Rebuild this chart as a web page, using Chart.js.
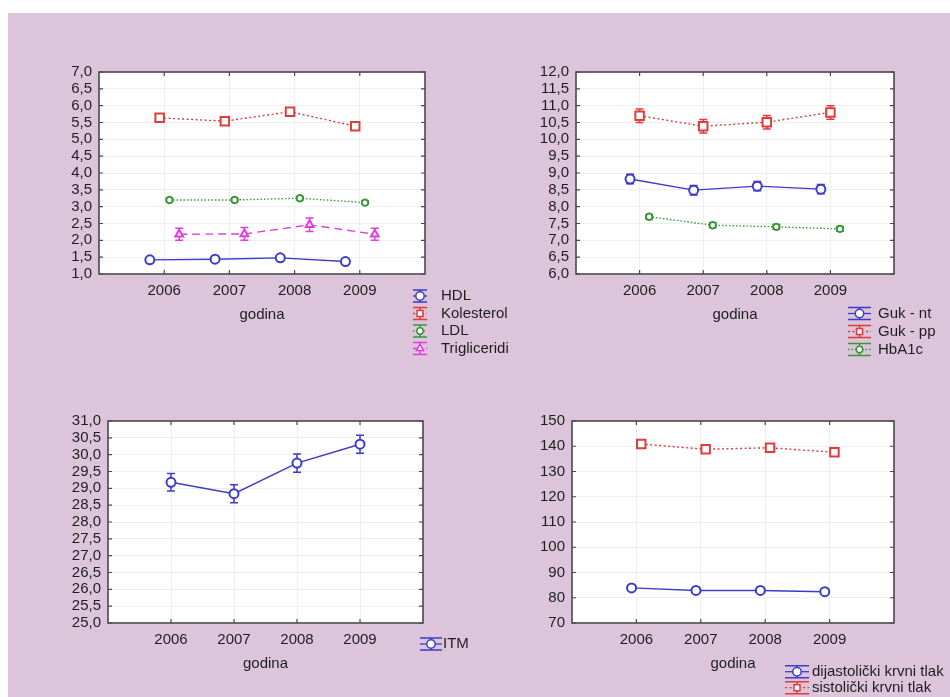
<!DOCTYPE html>
<html>
<head>
<meta charset="utf-8">
<script src="https://cdn.jsdelivr.net/npm/chart.js@4.4.0/dist/chart.umd.min.js"></script>
<style>
  body { margin: 0; background: #fff; }
  #page { position: absolute; left: 8px; top: 13px; width: 942px; height: 684px; background: #dcc4da; }
  canvas { position: absolute; }
</style>
</head>
<body>
<div id="page"></div>
<canvas id="c1" width="520" height="370" style="left:0px;top:0px"></canvas>
<canvas id="c2" width="470" height="370" style="left:480px;top:0px"></canvas>
<canvas id="c3" width="480" height="322" style="left:0px;top:375px"></canvas>
<canvas id="c4" width="470" height="322" style="left:480px;top:375px"></canvas>
<script>
// godine (x os)
const years = [2006, 2007, 2008, 2009];

// lipidi
const hdl = [1.42, 1.44, 1.48, 1.37];
const hdlErr = [0.03, 0.03, 0.03, 0.03];
const kolesterol = [5.64, 5.54, 5.82, 5.39];
const kolesterolErr = [0.08, 0.08, 0.08, 0.08];
const ldl = [3.20, 3.20, 3.25, 3.12];
const ldlErr = [0.05, 0.05, 0.05, 0.05];
const trigliceridi = [2.18, 2.19, 2.46, 2.18];
const trigliceridiErr = [0.18, 0.19, 0.2, 0.18];

// guk
const gukNt = [8.82, 8.49, 8.61, 8.52];
const gukNtErr = [0.14, 0.14, 0.14, 0.14];
const gukPp = [10.70, 10.39, 10.51, 10.80];
const gukPpErr = [0.2, 0.2, 0.2, 0.2];
const hba1c = [7.70, 7.45, 7.40, 7.34];
const hba1cErr = [0.07, 0.07, 0.07, 0.07];

// ITM
const itm = [29.18, 28.84, 29.75, 30.31];
const itmErr = [0.26, 0.27, 0.27, 0.27];

// krvni tlak
const dijastolicki = [83.9, 82.9, 82.9, 82.4];
const dijastolickiErr = [0.6, 0.6, 0.6, 0.6];
const sistolicki = [140.9, 138.8, 139.4, 137.6];
const sistolickiErr = [1.0, 1.0, 1.0, 1.0];

const FONT = 'Liberation Sans, Arial, sans-serif';
const BLUE = '#3c3cc8';
const RED = '#e03c3c';
const GREEN = '#3a963a';
const MAGENTA = '#dd3fdd';
const TXT = '#1e1e1e';

// zarez umjesto tocke
function fmt(dec) {
  return function(v) { return dec ? v.toFixed(dec).replace('.', ',') : String(v); };
}

function series(label, vals, err, off, color, style, radius, dash) {
  return {
    label: label,
    data: years.map(function(y, i) { return { x: y + off, y: vals[i] }; }),
    err: err,
    borderColor: color,
    backgroundColor: color,
    borderWidth: 1.4,
    borderDash: dash,
    pointStyle: style,
    pointRadius: radius,
    pointBorderWidth: 2,
    pointBackgroundColor: '#fff',
    pointBorderColor: color,
    tension: 0
  };
}

const plotPlugin = {
  id: 'plotPlugin',
  beforeDraw(chart) {
    const a = chart.chartArea, ctx = chart.ctx;
    ctx.save();
    ctx.fillStyle = '#fff';
    ctx.fillRect(a.left, a.top, a.right - a.left, a.bottom - a.top);
    ctx.restore();
  },
  beforeDatasetsDraw(chart) {
    const ctx = chart.ctx, xs = chart.scales.x, ys = chart.scales.y;
    ctx.save();
    chart.data.datasets.forEach(function(ds) {
      ctx.strokeStyle = ds.borderColor;
      ctx.lineWidth = 1.5;
      ctx.setLineDash([]);
      ds.data.forEach(function(p, i) {
        const x = xs.getPixelForValue(p.x);
        const y1 = ys.getPixelForValue(p.y - ds.err[i]);
        const y2 = ys.getPixelForValue(p.y + ds.err[i]);
        ctx.beginPath();
        ctx.moveTo(x, y1); ctx.lineTo(x, y2);
        ctx.moveTo(x - 4, y1); ctx.lineTo(x + 4, y1);
        ctx.moveTo(x - 4, y2); ctx.lineTo(x + 4, y2);
        ctx.stroke();
      });
    });
    ctx.restore();
  },
  afterDraw(chart) {
    const a = chart.chartArea, ctx = chart.ctx;
    const xs = chart.scales.x, ys = chart.scales.y;
    ctx.save();
    ctx.strokeStyle = '#4d4650';
    ctx.lineWidth = 1.6;
    ctx.strokeRect(a.left, a.top, a.right - a.left, a.bottom - a.top);
    ctx.lineWidth = 1.2;
    ctx.beginPath();
    ys.ticks.forEach(function(t) {
      const y = ys.getPixelForValue(t.value);
      ctx.moveTo(a.left, y); ctx.lineTo(a.left + 4, y);
      ctx.moveTo(a.right, y); ctx.lineTo(a.right - 4, y);
    });
    xs.ticks.forEach(function(t) {
      const x = xs.getPixelForValue(t.value);
      ctx.moveTo(x, a.top); ctx.lineTo(x, a.top + 4);
      ctx.moveTo(x, a.bottom); ctx.lineTo(x, a.bottom - 4);
    });
    ctx.stroke();

    // legenda
    const lg = chart.options.plugins.plotPlugin;
    ctx.font = '15px ' + FONT;
    ctx.textBaseline = 'middle';
    ctx.textAlign = 'left';
    chart.data.datasets.forEach(function(ds, i) {
      const cy = lg.y + i * lg.row;
      const x0 = lg.x, x1 = lg.x + lg.w, cx = (x0 + x1) / 2;
      ctx.strokeStyle = ds.borderColor;
      ctx.lineWidth = 1.5;
      ctx.setLineDash([]);
      ctx.beginPath();
      ctx.moveTo(x0, cy - 6); ctx.lineTo(x1, cy - 6);
      ctx.moveTo(x0, cy + 6); ctx.lineTo(x1, cy + 6);
      ctx.moveTo(cx, cy - 6); ctx.lineTo(cx, cy + 6);
      ctx.stroke();
      ctx.lineWidth = 1.3;
      ctx.setLineDash(ds.borderDash || []);
      ctx.beginPath();
      ctx.moveTo(x0, cy); ctx.lineTo(x1, cy);
      ctx.stroke();
      ctx.setLineDash([]);
      ctx.fillStyle = '#fff';
      ctx.lineWidth = 1.5;
      Chart.helpers.drawPoint(ctx, { pointStyle: ds.pointStyle, radius: Math.min(ds.pointRadius, 4.2), rotation: 0, borderWidth: 1.5 }, cx, cy);
      ctx.fillStyle = TXT;
      ctx.fillText(ds.label, lg.tx, cy);
    });
    ctx.restore();
  }
};

function makeChart(id, datasets, yOpt, lay, legend) {
  return new Chart(document.getElementById(id), {
    type: 'line',
    data: { datasets: datasets },
    plugins: [plotPlugin],
    options: {
      responsive: false,
      animation: false,
      layout: { padding: { left: 0, top: lay.top, right: lay.right, bottom: 0 } },
      plugins: { legend: { display: false }, tooltip: { enabled: false }, plotPlugin: legend },
      scales: {
        x: {
          type: 'linear',
          min: 2005, max: 2010,
          afterBuildTicks: function(ax) { ax.ticks = years.map(function(v) { return { value: v }; }); },
          afterFit: function(ax) { ax.height = lay.xh; },
          grid: { color: '#efefef', drawTicks: false },
          border: { display: false },
          ticks: { padding: 8, color: TXT, font: { family: FONT, size: 15 }, callback: function(v) { return String(v); } },
          title: { display: true, text: 'godina', color: TXT, font: { family: FONT, size: 15 }, padding: { top: 0, bottom: lay.tp } }
        },
        y: {
          min: yOpt.min, max: yOpt.max,
          afterFit: function(ax) { ax.width = lay.yw; },
          grid: { color: '#efefef', drawTicks: false },
          border: { display: false },
          ticks: { stepSize: yOpt.step, padding: 7, color: TXT, font: { family: FONT, size: 15 }, callback: fmt(yOpt.dec), autoSkip: false }
        }
      }
    }
  });
}

makeChart('c1', [
  series('HDL', hdl, hdlErr, -0.22, BLUE, 'circle', 4.5, []),
  series('Kolesterol', kolesterol, kolesterolErr, -0.07, RED, 'rect', 6, [2, 2.5]),
  series('LDL', ldl, ldlErr, 0.08, GREEN, 'circle', 3.2, [1.5, 2]),
  series('Trigliceridi', trigliceridi, trigliceridiErr, 0.23, MAGENTA, 'triangle', 4.5, [8, 5])
], { min: 1, max: 7, step: 0.5, dec: 1 }, { top: 72, right: 95, yw: 99, xh: 96, tp: 46 },
  { x: 413, w: 14, tx: 441, y: 296, row: 17.5 });

makeChart('c2', [
  series('Guk - nt', gukNt, gukNtErr, -0.15, BLUE, 'circle', 4.5, []),
  series('Guk - pp', gukPp, gukPpErr, 0, RED, 'rect', 6, [2, 2.5]),
  series('HbA1c', hba1c, hba1cErr, 0.15, GREEN, 'circle', 3.2, [1.5, 2])
], { min: 6, max: 12, step: 0.5, dec: 1 }, { top: 72, right: 56, yw: 96, xh: 96, tp: 46 },
  { x: 368, w: 23, tx: 398, y: 313.5, row: 18 });

makeChart('c3', [
  series('ITM', itm, itmErr, 0, BLUE, 'circle', 4.5, [])
], { min: 25, max: 31, step: 0.5, dec: 1 }, { top: 46, right: 57, yw: 108, xh: 74, tp: 24 },
  { x: 420, w: 22, tx: 443, y: 269, row: 18 });

makeChart('c4', [
  series('dijastolički krvni tlak', dijastolicki, dijastolickiErr, -0.075, BLUE, 'circle', 4.5, []),
  series('sistolički krvni tlak', sistolicki, sistolickiErr, 0.075, RED, 'rect', 6, [2, 2.5])
], { min: 70, max: 150, step: 10, dec: 0 }, { top: 46, right: 56, yw: 92, xh: 74, tp: 24 },
  { x: 305, w: 24, tx: 332, y: 296.7, row: 16 });
</script>
</body>
</html>
